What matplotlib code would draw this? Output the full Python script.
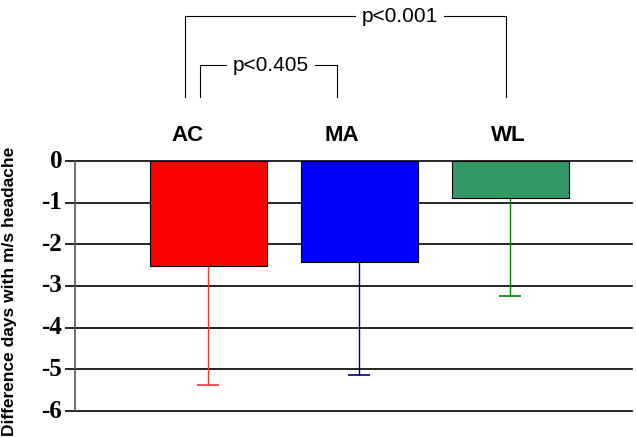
import numpy as np
import matplotlib.pyplot as plt
from matplotlib.transforms import blended_transform_factory

# data
groups = ["AC", "MA", "WL"]
means = [-2.52, -2.42, -0.89]
lower_err = [2.85, 2.72, 2.35]
bar_colors = ["#ff0000", "#0000ff", "#339966"]
err_colors = ["#ff3333", "#000080", "#008000"]
yticks = [0, -1, -2, -3, -4, -5, -6]
brackets = [(-0.156, 1.968, 3.48, "p<0.001", 1.27), (-0.056, 0.851, 2.30, "p<0.405", 0.415)]
label_x = [-0.136, 0.884, 1.983]

fig = plt.figure(figsize=(6.36, 4.38), dpi=100)
ax = fig.add_axes([75 / 636, 1 - 411 / 438, 557 / 636, 250 / 438])

x = np.arange(len(groups))
ax.bar(x, means, width=0.775, color=bar_colors, edgecolor="black", linewidth=0.8, zorder=3)
for xi, m, e, c in zip(x, means, lower_err, err_colors):
    ax.errorbar(xi, m, yerr=[[e], [0]], fmt="none", ecolor=c, elinewidth=1,
                capsize=8, capthick=1.2, zorder=2)

for yv in yticks:
    ax.axhline(yv, color="black", lw=1.2, clip_on=False, zorder=1)

ax.set_xlim(-0.884, 2.805)
ax.set_ylim(-6, 0)
for s in ["top", "right", "bottom"]:
    ax.spines[s].set_visible(False)
ax.spines["left"].set_color("#555555")
ax.spines["left"].set_linewidth(1.2)
ax.set_xticks([])
ax.set_yticks(yticks)
ax.tick_params(axis="y", length=7, width=1.2, labelleft=False)

# tick labels in bold serif, right edge just left of the tick marks
trans = blended_transform_factory(fig.transFigure, ax.transData)
for yv in yticks:
    fig.text(62 / 636, yv, str(yv), transform=trans, ha="right", va="center",
             fontfamily="Liberation Serif", fontweight="bold", fontsize=18)

ax.set_ylabel("Difference days with m/s headache", fontfamily="Liberation Sans",
              fontweight="bold", fontsize=12.5)
ax.yaxis.set_label_coords(-0.104, 0.48)

for lx, g in zip(label_x, groups):
    ax.text(lx, 0.62, g, ha="center", va="center", fontfamily="Liberation Sans",
            fontweight="bold", fontsize=16)

for x0, x1, yt, txt, tx in brackets:
    ax.plot([x0, x0, x1, x1], [1.54, yt, yt, 1.54], color="black", lw=0.8, clip_on=False)
    ax.text(tx, yt, txt, ha="center", va="center", fontfamily="Liberation Sans",
            fontweight="normal", fontsize=15,
            bbox=dict(facecolor="white", edgecolor="none", pad=4))

fig.savefig("out.png", dpi=100)
